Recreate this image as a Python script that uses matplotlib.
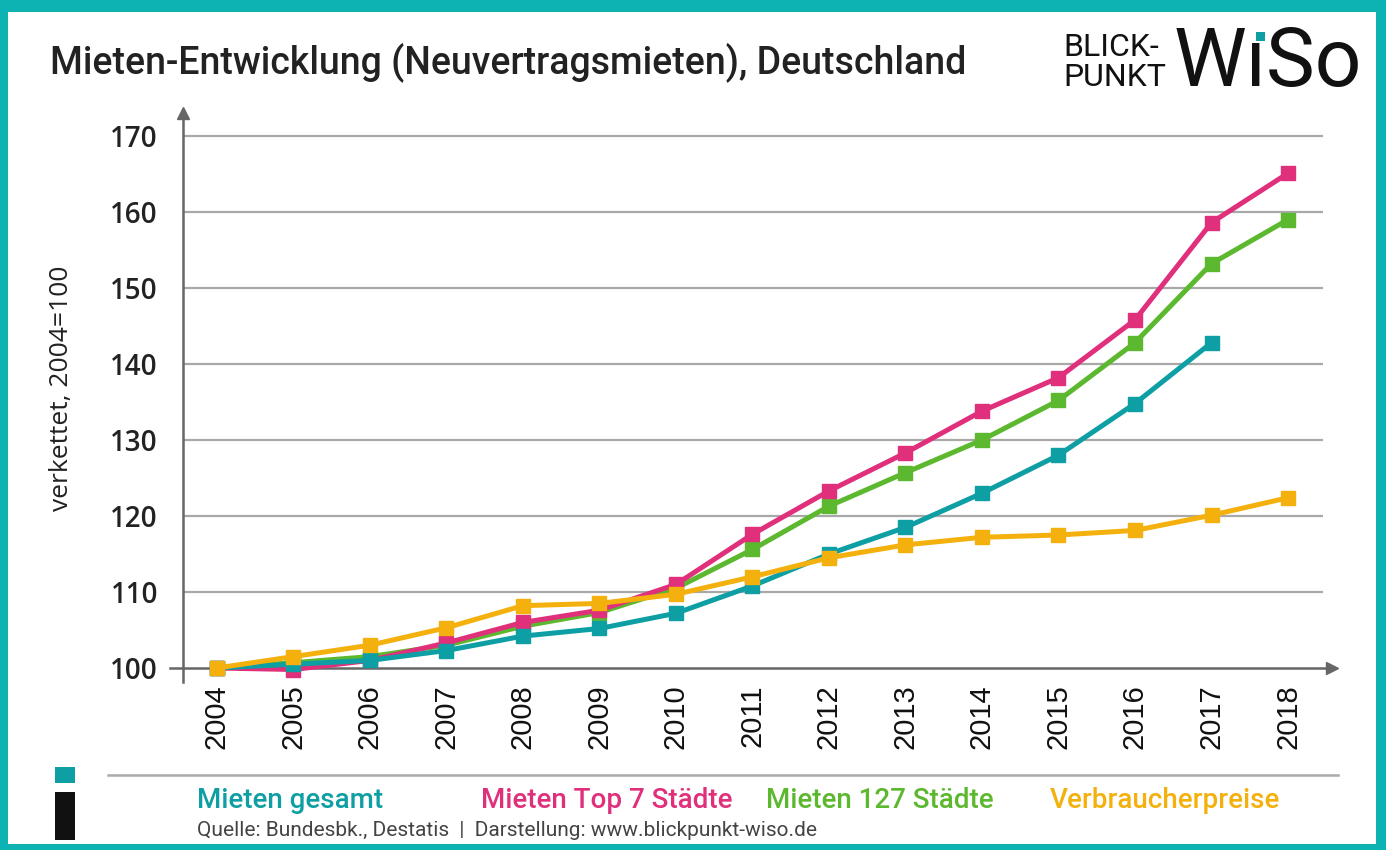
import matplotlib
matplotlib.use("Agg")
import matplotlib.pyplot as plt
from matplotlib.patches import Rectangle

years = list(range(2004, 2019))
mieten_gesamt = [100, 100.5, 101.0, 102.3, 104.2, 105.2, 107.2, 110.8, 115.0, 118.5, 123.0, 128.0, 134.8, 142.8]
mieten_top7 = [100, 99.8, 101.0, 103.3, 106.0, 107.6, 111.0, 117.6, 123.3, 128.3, 133.8, 138.2, 145.8, 158.6, 165.1]
mieten_127 = [100, 100.7, 101.5, 103.0, 105.5, 107.3, 110.5, 115.6, 121.3, 125.7, 130.0, 135.2, 142.8, 153.2, 159.0]
verbraucherpreise = [100, 101.5, 103.0, 105.3, 108.2, 108.5, 109.7, 112.0, 114.5, 116.2, 117.2, 117.5, 118.1, 120.1, 122.4]
y_ticks = [100, 110, 120, 130, 140, 150, 160, 170]
series_labels = ["Mieten gesamt", "Mieten Top 7 Städte", "Mieten 127 Städte", "Verbraucherpreise"]

TEAL = "#0d9fa3"
PINK = "#e0307c"
GREEN = "#5cb82e"
YELLOW = "#f4b10d"
BORDER = "#0db3b3"
GRID = "#a8a8a8"
AXIS = "#666666"

W, H = 1386, 850
fig = plt.figure(figsize=(W / 100, H / 100), dpi=100)
fig.patch.set_facecolor(BORDER)
fig.patches.append(Rectangle((8 / W, 6 / H), (W - 18) / W, (H - 18) / H,
                             transform=fig.transFigure, facecolor="white",
                             edgecolor="none", zorder=-5))

# axes geometry (pixels)
left_px, right_px, top_px, bot_px = 183, 1338, 108, 668
x0_px, step_px = 217, 76.5
x_left = 2004 - (x0_px - left_px) / step_px
x_right = 2004 + (right_px - x0_px) / step_px
grid_right = 2004 + (1323 - x0_px) / step_px
y_top = 100 + (bot_px - top_px) / 7.6

ax = fig.add_axes([left_px / W, 1 - bot_px / H, (right_px - left_px) / W, (bot_px - top_px) / H])
ax.set_zorder(2)
ax.set_xlim(x_left, x_right)
ax.set_ylim(100, y_top)
ax.patch.set_alpha(0)
for s in ax.spines.values():
    s.set_visible(False)

# gridlines
ax.hlines(y_ticks[1:], x_left, grid_right, color=GRID, lw=1.6, zorder=1)
# axes lines with arrows
ax.plot([x_left - 13 / step_px, x_right - 0.05], [100, 100], color=AXIS, lw=1.8, clip_on=False, zorder=2)
ax.plot([x_left, x_left], [100 - 14 / 7.6, y_top - 0.5], color=AXIS, lw=1.8, clip_on=False, zorder=2)
ax.plot([x_right - 0.08], [100], marker=">", ms=9, color=AXIS, clip_on=False, zorder=2)
ax.plot([x_left], [y_top - 0.6], marker="^", ms=9, color=AXIS, clip_on=False, zorder=2)

mk = dict(marker="s", ms=9.5, lw=3.6, clip_on=False)
ax.plot(years[:len(mieten_127)], mieten_127, color=GREEN, zorder=3, **mk)
ax.plot(years[:len(mieten_top7)], mieten_top7, color=PINK, zorder=4, **mk)
ax.plot(years[:len(mieten_gesamt)], mieten_gesamt, color=TEAL, zorder=5, **mk)
ax.plot(years[:len(verbraucherpreise)], verbraucherpreise, color=YELLOW, zorder=6, **mk)

ax.set_yticks(y_ticks)
ax.set_yticklabels([str(v) for v in y_ticks], fontfamily="Open Sans", fontweight="semibold",
                   fontsize=20, color="#222222")
ax.tick_params(axis="y", length=0, pad=18)
ax.set_xticks(years)
ax.set_xticklabels([str(y) for y in years], rotation=90, fontfamily="Liberation Sans",
                   fontsize=21, color="#111111")
ax.tick_params(axis="x", length=0, pad=12)

ax.set_ylabel("verkettet, 2004=100", fontfamily="Open Sans", fontweight="medium", fontsize=19,
              color="#222222", labelpad=26)

# title
fig.text(50 / W, 1 - 62 / H, "Mieten-Entwicklung (Neuvertragsmieten), Deutschland",
         fontfamily="Roboto", fontweight="medium", fontsize=27, color="#222222", va="center", ha="left")

# logo
fig.text(1063 / W, 1 - 47 / H, "BLICK-", fontfamily="Roboto", fontsize=23, color="#111111", va="center")
fig.text(1063 / W, 1 - 78 / H, "PUNKT", fontfamily="Roboto", fontsize=23, color="#111111", va="center")
fig.text(1174 / W, 1 - 64 / H, "WıSo", fontfamily="Roboto", fontsize=59, color="#111111", va="center")
fig.patches.append(Rectangle((1256 / W, 1 - 41 / H), 9 / W, 9 / H, transform=fig.transFigure,
                             facecolor=TEAL, edgecolor="none", zorder=5))

# separator line
fig.add_artist(plt.Line2D([108 / W, 1338 / W], [1 - 775 / H, 1 - 775 / H], color="#aaaaaa", lw=1.8))

# legend labels
for xpx, lab, c in zip([197, 481, 766, 1050], series_labels, [TEAL, PINK, GREEN, YELLOW]):
    fig.text(xpx / W, 1 - 800 / H, lab, fontfamily="Roboto", fontweight="medium", fontsize=20,
             color=c, va="center", ha="left")

fig.text(197 / W, 1 - 830 / H, "Quelle: Bundesbk., Destatis  |  Darstellung: www.blickpunkt-wiso.de",
         fontfamily="Roboto", fontsize=15, color="#444444", va="center", ha="left")

# info icon
fig.patches.append(Rectangle((55 / W, 1 - 783 / H), 20 / W, 16 / H, transform=fig.transFigure,
                             facecolor=TEAL, edgecolor="none"))
fig.patches.append(Rectangle((55 / W, 1 - 840 / H), 20 / W, 48 / H, transform=fig.transFigure,
                             facecolor="#111111", edgecolor="none"))

fig.savefig("out.png", dpi=100, facecolor=fig.get_facecolor())
